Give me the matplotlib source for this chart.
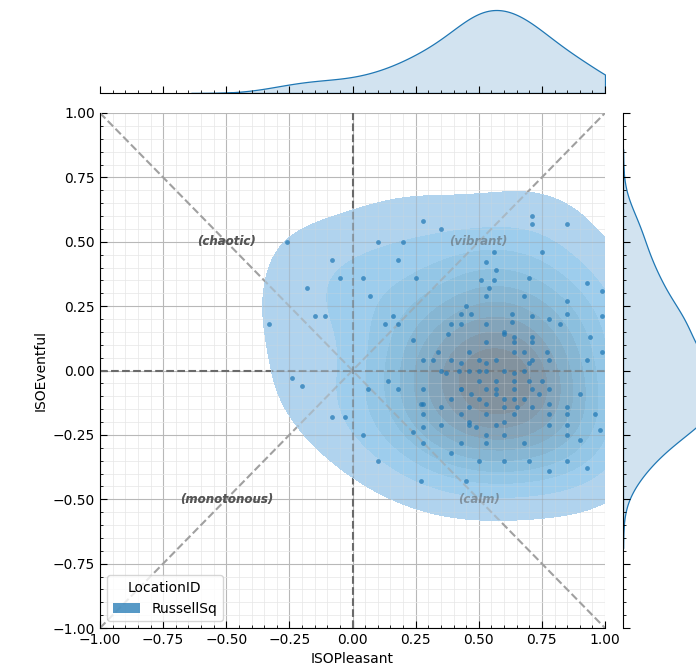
import numpy as np
import pandas as pd
import matplotlib
matplotlib.use("Agg")
import matplotlib.pyplot as plt
import seaborn as sns
from seaborn.external import husl
from matplotlib.colors import ListedColormap, to_rgba
from matplotlib.patches import Patch
from matplotlib.path import Path
from matplotlib.ticker import MultipleLocator
from matplotlib.contour import ContourSet

# ---- data ----
location = "RussellSq"
iso_pleasant = [
    -0.26, -0.33, -0.18, -0.15, -0.11, -0.08, -0.05, -0.24, -0.20, -0.08,
    -0.03, 0.04, 0.07, 0.04, 0.10, 0.10, 0.20, 0.18, 0.25, 0.16,
    0.13, 0.18, 0.24, 0.06, 0.14, 0.18, 0.24, 0.27, 0.27, 0.28,
    0.35, 0.71, 0.71, 0.85, 0.75, 0.56, 0.53, 0.57, 0.51, 0.56,
    0.54, 0.53, 0.70, 0.93, 0.68, 0.85, 0.99, 0.45, 0.43, 0.47,
    0.63, 0.63, 0.71, 0.78, 0.82, 0.85, 0.39, 0.43, 0.53, 0.38,
    0.60, 0.64, 0.71, 0.71, 0.68, 0.77, 0.34, 0.99, 0.28, 0.32,
    0.43, 0.53, 0.70, 0.78, 0.93, 0.37, 0.64, 0.70, 0.28, 0.43,
    0.53, 0.78, 0.28, 0.35, 0.46, 0.53, 0.60, 0.64, 0.65, 0.71,
    0.78, 0.85, 0.28, 0.43, 0.78, 0.85, 0.28, 0.35, 0.46, 0.49,
    0.60, 0.78, 0.85, 0.60, 0.85, 0.28, 0.43, 0.53, 0.68, 0.39,
    0.50, 0.60, 0.70, 0.85, 0.78, 0.93, 0.45, 0.99, 0.35, 0.42,
    0.50, 0.47, 0.57, 0.74, 0.90, 0.96, 0.90, 0.98, 0.94,
    # overlapping points in the dense centre
    0.50, 0.57, 0.64, 0.46, 0.53, 0.60, 0.68, 0.50, 0.57, 0.64,
    0.43, 0.57, 0.64, 0.71, 0.50, 0.60, 0.68, 0.39, 0.53, 0.46,
    0.60, 0.53, 0.64, 0.46, 0.57, 0.75, 0.71, 0.39, 0.53, 0.64,
]
iso_eventful = [
    0.50, 0.18, 0.32, 0.21, 0.21, 0.43, 0.36, -0.03, -0.06, -0.18,
    -0.18, 0.36, 0.29, -0.25, -0.35, 0.50, 0.50, 0.43, 0.36, 0.21,
    0.18, 0.18, 0.12, -0.07, -0.04, -0.07, -0.24, -0.13, -0.43, 0.58,
    0.55, 0.60, 0.57, 0.57, 0.46, 0.46, 0.42, 0.39, 0.35, 0.35,
    0.32, 0.29, 0.36, 0.34, 0.29, 0.27, 0.31, 0.25, 0.22, 0.22,
    0.22, 0.19, 0.21, 0.20, 0.18, 0.22, 0.18, 0.18, 0.18, 0.14,
    0.15, 0.13, 0.13, 0.11, 0.07, 0.07, 0.07, 0.21, 0.04, 0.04,
    0.03, 0.03, 0.03, 0.04, 0.04, -0.01, -0.01, -0.04, -0.07, -0.07,
    -0.07, -0.07, -0.13, -0.14, -0.14, -0.13, -0.14, -0.11, -0.14, -0.14,
    -0.13, -0.14, -0.17, -0.17, -0.17, -0.17, -0.22, -0.21, -0.20, -0.22,
    -0.20, -0.21, -0.21, -0.25, -0.25, -0.28, -0.28, -0.28, -0.28, -0.32,
    -0.35, -0.35, -0.35, -0.35, -0.39, -0.38, -0.43, 0.07, 0.00, 0.00,
    0.00, -0.09, -0.09, -0.09, -0.09, -0.17, -0.27, -0.23, 0.13,
    # overlapping points in the dense centre
    -0.04, -0.04, -0.04, 0.00, 0.00, 0.00, 0.00, 0.04, 0.04, 0.07,
    -0.07, -0.07, -0.07, -0.07, -0.11, -0.11, -0.11, -0.11, 0.11, 0.07,
    0.14, -0.17, -0.17, -0.21, -0.21, -0.04, 0.04, 0.04, -0.25, 0.11,
]
quadrant_labels = ["(chaotic)", "(vibrant)", "(monotonous)", "(calm)"]
quadrant_x = [-0.5, 0.5, -0.5, 0.5]
quadrant_y = [0.5, 0.5, -0.5, -0.5]
ticks = [-1.0, -0.75, -0.5, -0.25, 0.0, 0.25, 0.5, 0.75, 1.0]

df = pd.DataFrame({"ISOPleasant": iso_pleasant,
                   "ISOEventful": iso_eventful,
                   "LocationID": [location] * len(iso_pleasant)})

color = "#1f77b4"
FILL_ALPHA = 0.65


def ramp_cmap(c, sat_scale=0.85, hue_shift=-8, alpha=FILL_ALPHA):
    """seaborn-like light->dark ramp of one colour, pre-blended on white."""
    r, g, b, _ = to_rgba(c)
    h, s, _ = husl.rgb_to_husl(r, g, b)
    xx = np.linspace(-1, 1, int(1.15 * 256))[:256]
    light = np.linspace(33, 76, 256)
    cols = np.clip([husl.husl_to_rgb(h + hue_shift, s * sat_scale * np.cos(v), l)
                    for v, l in zip(xx, light)], 0, 1)[::-1]
    return ListedColormap(alpha * cols + (1 - alpha))


W, H = 696, 670
fig = plt.figure(figsize=(W / 100, H / 100), dpi=100)

def px_axes(x0, y0, x1, y1):
    return fig.add_axes([x0 / W, 1 - y1 / H, (x1 - x0) / W, (y1 - y0) / H])

ax = px_axes(100, 113, 605, 628)
ax_top = px_axes(100, 0, 605, 93)
ax_right = px_axes(623, 113, 724, 628)

# main axes decoration
ax.set_xlim(-1, 1)
ax.set_ylim(-1, 1)
ax.set_xticks(ticks)
ax.set_yticks(ticks)
ax.xaxis.set_minor_locator(MultipleLocator(0.05))
ax.yaxis.set_minor_locator(MultipleLocator(0.05))
ax.grid(which="major", color="#b8b8b8", lw=0.8, zorder=0)
ax.grid(which="minor", color="#e6e6e6", lw=0.5, zorder=0)
ax.set_axisbelow(True)
ax.tick_params(which="both", direction="in", labelsize=10)
ax.tick_params(which="major", length=5)
ax.tick_params(which="minor", length=2.5)
for s in ["top", "right"]:
    ax.spines[s].set_visible(False)


def draw_guides(zorder, alpha=1.0, clip=None):
    arts = []
    arts += ax.plot([-1, 1], [1, -1], ls="--", color="#a0a0a0", lw=1.5,
                    zorder=zorder, alpha=alpha)
    arts += ax.plot([-1, 1], [-1, 1], ls="--", color="#a0a0a0", lw=1.5,
                    zorder=zorder, alpha=alpha)
    arts.append(ax.axhline(0, ls="--", color="#6a6a6a", lw=1.5,
                           zorder=zorder, alpha=alpha))
    arts.append(ax.axvline(0, ls="--", color="#6a6a6a", lw=1.5,
                           zorder=zorder, alpha=alpha))
    for t, qx, qy in zip(quadrant_labels, quadrant_x, quadrant_y):
        arts.append(ax.text(qx, qy, t, ha="center", va="center",
                            style="italic", weight="bold", fontsize=8.5,
                            color="#555555", zorder=zorder, alpha=alpha))
    if clip is not None:
        for a in arts:
            a.set_clip_path(clip, ax.transData)
    return arts


draw_guides(1.3)

sns.kdeplot(data=df, x="ISOPleasant", y="ISOEventful",
            cmap=ramp_cmap(color), fill=True, bw_adjust=1.5,
            clip=((-1, 1), (-1, 1)), ax=ax, zorder=2)
cs = [c for c in ax.collections if isinstance(c, ContourSet)][0]
cs.set_edgecolor("face")
cs.set_linewidth(0.3)
blob = Path.make_compound_path(*[p for p in cs.get_paths() if len(p.vertices)])

# things that show faintly through the translucent density
see = 1 - FILL_ALPHA
minor_ticks = ax.xaxis.get_minorticklocs()
for v in minor_ticks:
    for ln in (ax.axvline(v, color="#d8d8d8", lw=0.5, alpha=see, zorder=2.05),
               ax.axhline(v, color="#d8d8d8", lw=0.5, alpha=see, zorder=2.05)):
        ln.set_clip_path(blob, ax.transData)
for v in ticks:
    for ln in (ax.axvline(v, color="#999999", lw=0.8, alpha=see, zorder=2.06),
               ax.axhline(v, color="#999999", lw=0.8, alpha=see, zorder=2.06)):
        ln.set_clip_path(blob, ax.transData)
draw_guides(2.1, alpha=see + 0.15, clip=blob)

sns.scatterplot(data=df, x="ISOPleasant", y="ISOEventful",
                color=color, s=12, linewidth=0, alpha=0.7,
                ax=ax, zorder=2.3)
ax.set_xlim(-1, 1)
ax.set_ylim(-1, 1)
ax.set_xlabel("ISOPleasant", fontsize=10)
ax.set_ylabel("ISOEventful", fontsize=10)
ax.legend(handles=[Patch(facecolor=color, alpha=0.75, label=location)],
          title="LocationID", loc="lower left", fontsize=10,
          title_fontsize=10, frameon=True).set_zorder(5)

# marginals
sns.kdeplot(data=df, x="ISOPleasant", color=color,
            fill=True, alpha=0.2, clip=(-1, 1), ax=ax_top, linewidth=0.9)
sns.kdeplot(data=df, y="ISOEventful", color=color,
            fill=True, alpha=0.2, clip=(-1, 1), ax=ax_right, linewidth=0.9)

ax_top.set_xlim(-1, 1)
peak_top = max(np.max(p.get_paths()[0].vertices[:, 1]) for p in ax_top.collections)
ax_top.set_ylim(0, peak_top * 93 / 83)
ax_right.set_ylim(-1, 1)
peak_r = max(np.max(p.get_paths()[0].vertices[:, 0]) for p in ax_right.collections)
ax_right.set_xlim(0, peak_r * 1.05)

for a in (ax_top, ax_right):
    a.set_xlabel("")
    a.set_ylabel("")
    for s in a.spines.values():
        s.set_visible(False)
    a.tick_params(which="both", direction="in")
    a.tick_params(which="major", length=5)
    a.tick_params(which="minor", length=2.5)
ax_top.spines["bottom"].set_visible(True)
ax_top.set_xticks(ticks)
ax_top.xaxis.set_minor_locator(MultipleLocator(0.05))
ax_top.set_xticklabels([])
ax_top.set_yticks([])
ax_right.spines["left"].set_visible(True)
ax_right.set_yticks(ticks)
ax_right.yaxis.set_minor_locator(MultipleLocator(0.05))
ax_right.set_yticklabels([])
ax_right.set_xticks([])

fig.savefig("out.png", dpi=100)
